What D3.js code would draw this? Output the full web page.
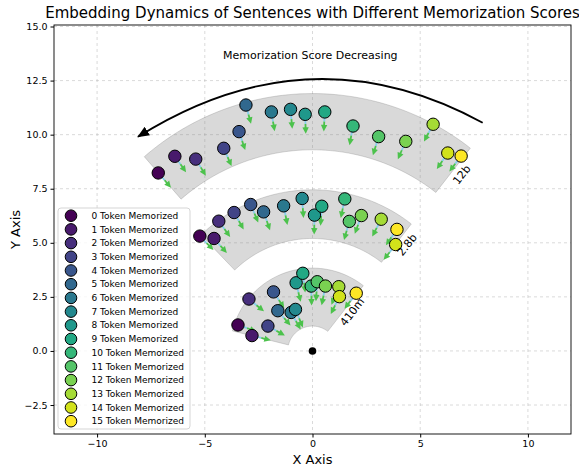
<!DOCTYPE html>
<html>
<head>
<meta charset="utf-8">
<script src="https://cdn.jsdelivr.net/npm/d3@7"></script>
<style>
  body { margin: 0; background: #fff; }
  text { font-family: "DejaVu Sans", sans-serif; }
</style>
</head>
<body>
<script>
var svgWidth = 579;
var svgHeight = 468;
var margin = {top: 25, right: 8, bottom: 34, left: 54};

// point positions per model (index = tokens memorized, 0..15)
var xs12b = [-7.16, -6.39, -5.42, -4.12, -3.41, -3.09, -1.91, -1.02, -0.34, 0.57, 1.88, 3.07, 4.33, 5.60, 6.28, 6.90];
var ys12b = [8.23, 9.00, 8.87, 9.37, 10.14, 11.37, 11.05, 11.17, 10.94, 11.05, 10.40, 9.91, 9.69, 10.48, 9.15, 9.01];

var xs28b = [-5.23, -4.57, -4.35, -3.64, -2.87, -2.27, -1.34, -0.48, 0.09, 0.43, 1.50, 1.71, 2.27, 3.19, 3.86, 3.92];
var ys28b = [5.31, 5.20, 6.00, 6.40, 6.77, 6.43, 6.71, 7.05, 6.28, 6.69, 7.03, 5.99, 6.26, 6.09, 4.92, 5.62];

var xs410m = [-3.46, -2.81, -2.95, -2.07, -1.81, -1.61, -0.99, -0.79, -0.76, -0.45, -0.06, 0.22, 0.60, 1.22, 1.25, 2.03];
var ys410m = [1.20, 0.71, 2.40, 1.15, 2.73, 1.86, 1.78, 1.92, 3.15, 3.59, 3.00, 3.20, 3.00, 2.97, 2.51, 2.67];

// band extents: [inner radius, outer radius, start angle deg, end angle deg]
var band12b = [9.3, 11.9, 52, 131];
var band28b = [5.2, 7.45, 52, 134];
var band410m = [1.15, 3.83, 52, 166];

var modelNames = ["12b", "2.8b", "410m"];
var labelX = [6.94, 4.40, 1.85];
var labelY = [8.14, 4.90, 1.80];

var arrowLen = 0.9;
var tokenCounts = d3.range(16);
var xTicks = [-10, -5, 0, 5, 10];
var yTicks = [-2.5, 0, 2.5, 5, 7.5, 10, 12.5, 15];

// curved "decreasing" arrow: start, control, end
var bigArrow = [[7.9, 10.55], [-0.1, 14.9], [-8.1, 9.9]];

var models = [
    {name: modelNames[0], xs: xs12b, ys: ys12b, band: band12b},
    {name: modelNames[1], xs: xs28b, ys: ys28b, band: band28b},
    {name: modelNames[2], xs: xs410m, ys: ys410m, band: band410m}
];

var x = d3.scaleLinear().domain([-12, 12]).range([margin.left, svgWidth - margin.right]);
var y = d3.scaleLinear().domain([-3.84, 15.07]).range([svgHeight - margin.bottom, margin.top]);
var color = d => d3.interpolateViridis(d / 15);

var svg = d3.select("body").append("svg")
    .attr("width", svgWidth)
    .attr("height", svgHeight);

var defs = svg.append("defs");
defs.append("clipPath").attr("id", "plotclip")
    .append("rect")
    .attr("x", margin.left).attr("y", margin.top)
    .attr("width", x.range()[1] - margin.left)
    .attr("height", y.range()[0] - margin.top);

defs.append("marker")
    .attr("id", "bighead")
    .attr("viewBox", "0 0 12 10")
    .attr("refX", 11).attr("refY", 5)
    .attr("markerWidth", 12).attr("markerHeight", 10)
    .attr("markerUnits", "userSpaceOnUse")
    .attr("orient", "auto")
    .append("path")
    .attr("d", "M0,0 L12,5 L0,10 Z")
    .attr("fill", "black");

// grid
var grid = svg.append("g");
grid.selectAll(".gx").data(xTicks).enter().append("line")
    .attr("x1", d => x(d)).attr("x2", d => x(d))
    .attr("y1", y.range()[1]).attr("y2", y.range()[0])
    .attr("stroke", "#b0b0b0").attr("stroke-opacity", 0.6)
    .attr("stroke-width", 0.8).attr("stroke-dasharray", "3,3");
grid.selectAll(".gy").data(yTicks).enter().append("line")
    .attr("x1", x.range()[0]).attr("x2", x.range()[1])
    .attr("y1", d => y(d)).attr("y2", d => y(d))
    .attr("stroke", "#b0b0b0").attr("stroke-opacity", 0.6)
    .attr("stroke-width", 0.8).attr("stroke-dasharray", "3,3");

var plot = svg.append("g").attr("clip-path", "url(#plotclip)");

// bands (annular sectors around the origin)
function bandPath(b) {
    var n = 60, pts = [];
    for (var i = 0; i <= n; i++) {
        var a = (b[2] + (b[3] - b[2]) * i / n) * Math.PI / 180;
        pts.push([x(b[1] * Math.cos(a)), y(b[1] * Math.sin(a))]);
    }
    for (var j = n; j >= 0; j--) {
        var a2 = (b[2] + (b[3] - b[2]) * j / n) * Math.PI / 180;
        pts.push([x(b[0] * Math.cos(a2)), y(b[0] * Math.sin(a2))]);
    }
    return d3.line()(pts) + "Z";
}

plot.selectAll(".band").data(models).enter().append("path")
    .attr("d", d => bandPath(d.band))
    .attr("fill", "#808080").attr("fill-opacity", 0.3)
    .attr("stroke", "#808080").attr("stroke-opacity", 0.3)
    .attr("stroke-width", 1);

// arrows
models.forEach(m => {
    var g = plot.append("g");
    tokenCounts.forEach(i => {
        var px = m.xs[i], py = m.ys[i];
        var r = Math.sqrt(px * px + py * py);
        var ex = px - arrowLen * px / r, ey = py - arrowLen * py / r;
        var x0 = x(px), y0 = y(py), x1 = x(ex), y1 = y(ey);
        var dx = x1 - x0, dy = y1 - y0, len = Math.sqrt(dx * dx + dy * dy);
        var ux = dx / len, uy = dy / len;
        var mx = x0 + dx * 0.5, my = y0 + dy * 0.5;
        g.append("line")
            .attr("x1", x0).attr("y1", y0).attr("x2", mx).attr("y2", my)
            .attr("stroke", "#87ceeb").attr("stroke-width", 1.8);
        // green arrow: thin shaft then triangular head
        var hl = 6.5, hw = 3.2, sw = 0.9;
        var bx = x1 - ux * hl, by = y1 - uy * hl;
        var nx = -uy, ny = ux;
        var poly = [
            [mx + nx * sw, my + ny * sw],
            [bx + nx * sw, by + ny * sw],
            [bx + nx * hw, by + ny * hw],
            [x1, y1],
            [bx - nx * hw, by - ny * hw],
            [bx - nx * sw, by - ny * sw],
            [mx - nx * sw, my - ny * sw]
        ];
        g.append("path")
            .attr("d", d3.line()(poly) + "Z")
            .attr("fill", "#4cc24c");
    });
});

// points
models.forEach(m => {
    plot.append("g").selectAll("circle").data(tokenCounts).enter().append("circle")
        .attr("cx", i => x(m.xs[i]))
        .attr("cy", i => y(m.ys[i]))
        .attr("r", 6.2)
        .attr("fill", i => color(i))
        .attr("stroke", "black").attr("stroke-width", 1);
});

// origin
plot.append("circle").attr("cx", x(0)).attr("cy", y(0)).attr("r", 3.8).attr("fill", "black");

// model labels
svg.selectAll(".mlabel").data(models).enter().append("text")
    .attr("transform", (d, i) => "translate(" + x(labelX[i]) + "," + y(labelY[i]) + ") rotate(-52)")
    .attr("text-anchor", "middle")
    .attr("dominant-baseline", "central")
    .attr("font-size", 11)
    .text(d => d.name);

// curved arrow
var bp = d3.path();
bp.moveTo(x(bigArrow[0][0]), y(bigArrow[0][1]));
bp.quadraticCurveTo(x(bigArrow[1][0]), y(bigArrow[1][1]), x(bigArrow[2][0]), y(bigArrow[2][1]));
plot.append("path")
    .attr("d", bp.toString())
    .attr("fill", "none")
    .attr("stroke", "black")
    .attr("stroke-width", 1.8)
    .attr("marker-end", "url(#bighead)");

svg.append("text")
    .attr("x", x(-0.1)).attr("y", y(13.5))
    .attr("text-anchor", "middle")
    .attr("font-size", 11)
    .text("Memorization Score Decreasing");

// axes
svg.append("g")
    .attr("transform", "translate(0," + y.range()[0] + ")")
    .call(d3.axisBottom(x).tickValues(xTicks).tickSize(3.5).tickPadding(3)
        .tickFormat(d => d < 0 ? "\u2212" + Math.abs(d) : d))
    .call(g => g.select(".domain").remove())
    .selectAll("text").attr("font-size", 9.5).attr("font-family", "DejaVu Sans");

svg.append("g")
    .attr("transform", "translate(" + x.range()[0] + ",0)")
    .call(d3.axisLeft(y).tickValues(yTicks).tickSize(3.5).tickPadding(3)
        .tickFormat(d => (d < 0 ? "\u2212" : "") + Math.abs(d).toFixed(1)))
    .call(g => g.select(".domain").remove())
    .selectAll("text").attr("font-size", 9.5).attr("font-family", "DejaVu Sans");

svg.append("rect")
    .attr("x", x.range()[0]).attr("y", y.range()[1])
    .attr("width", x.range()[1] - x.range()[0])
    .attr("height", y.range()[0] - y.range()[1])
    .attr("fill", "none").attr("stroke", "black").attr("stroke-width", 0.9);

// legend
var legend = svg.append("g").attr("transform", "translate(58,208)");
legend.append("rect")
    .attr("width", 132).attr("height", 221)
    .attr("rx", 3)
    .attr("fill", "white").attr("fill-opacity", 0.8)
    .attr("stroke", "#d0d0d0").attr("stroke-width", 0.9);
var rows = legend.selectAll(".row").data(tokenCounts).enter().append("g")
    .attr("transform", i => "translate(0," + (7.7 + i * 13.7) + ")");
rows.append("circle")
    .attr("cx", 13).attr("r", 5.8)
    .attr("fill", i => color(i))
    .attr("stroke", "black").attr("stroke-width", 1);
rows.append("text")
    .attr("x", 33.5).attr("dy", "0.35em")
    .attr("font-size", 9)
    .text(i => i + " Token Memorized");

// titles
svg.append("text")
    .attr("x", (x.range()[0] + x.range()[1]) / 2).attr("y", 18)
    .attr("text-anchor", "middle")
    .attr("font-size", 15)
    .text("Embedding Dynamics of Sentences with Different Memorization Scores");

svg.append("text")
    .attr("x", (x.range()[0] + x.range()[1]) / 2).attr("y", 464)
    .attr("text-anchor", "middle")
    .attr("font-size", 13)
    .text("X Axis");

svg.append("text")
    .attr("transform", "translate(20," + ((y.range()[0] + y.range()[1]) / 2) + ") rotate(-90)")
    .attr("text-anchor", "middle")
    .attr("font-size", 13)
    .text("Y Axis");
</script>
</body>
</html>
